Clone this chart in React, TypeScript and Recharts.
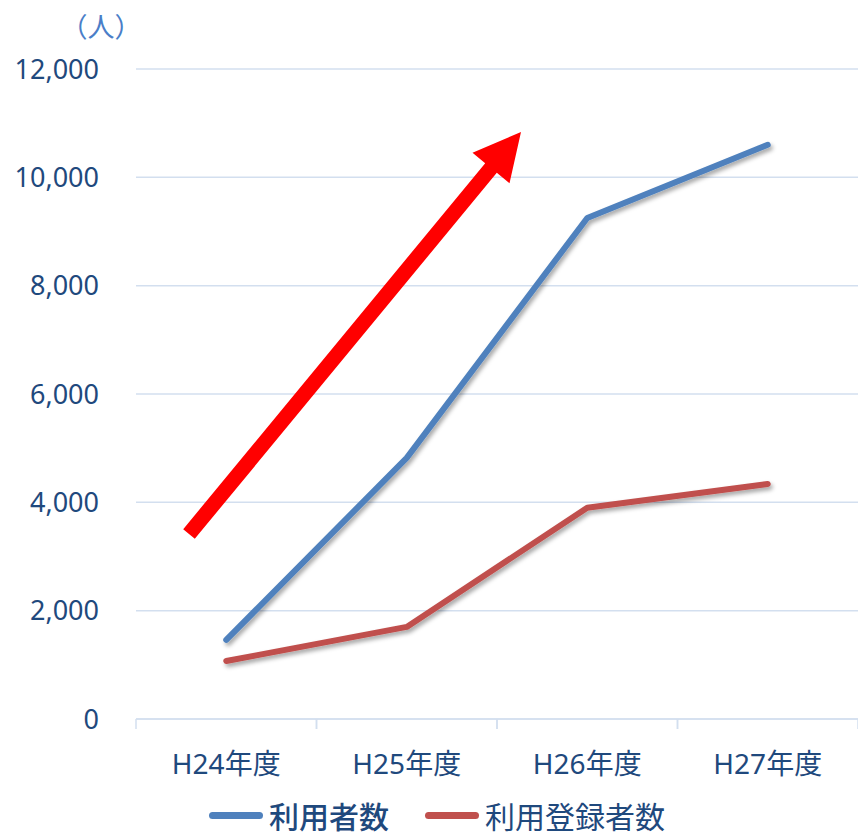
import { LineChart, Line, XAxis, YAxis, CartesianGrid, Legend } from "recharts";

const years = ["H24年度", "H25年度", "H26年度", "H27年度"];
const users = [1460, 4820, 9250, 10600];
const registered = [1070, 1700, 3900, 4340];
const yTicks = [0, 2000, 4000, 6000, 8000, 10000, 12000];

const data = years.map((year, i) => ({
  year,
  users: users[i],
  registered: registered[i],
}));

const TEXT = "#1F497D";
const GRID = "#D3DFEF";
const BLUE = "#4F81BD";
const RED = "#C0504D";
const FONT = "'Noto Sans', 'Noto Sans CJK JP', sans-serif";

const XTick = ({ x, y, payload }: any) => {
  const half = payload && payload.offset ? payload.offset : 90.25;
  return (
    <g>
      <line x1={x - half} y1={y} x2={x - half} y2={y + 10} stroke={GRID} strokeWidth={1.5} />
      <line x1={x + half} y1={y} x2={x + half} y2={y + 10} stroke={GRID} strokeWidth={1.5} />
      <text
        x={x}
        y={y + 44}
        textAnchor="middle"
        dominantBaseline="central"
        fill={TEXT}
        fontSize={28}
        fontFamily={FONT}
      >
        {payload.value}
      </text>
    </g>
  );
};

const LegendContent = () => {
  const items = [
    { label: "利用者数", color: BLUE, weight: 500 },
    { label: "利用登録者数", color: RED, weight: 400 },
  ];
  return (
    <div style={{ display: "flex", alignItems: "center", paddingLeft: 209 }}>
      {items.map((it, i) => (
        <div key={it.label} style={{ display: "flex", alignItems: "center", marginRight: i === 0 ? 36 : 0 }}>
          <span
            style={{
              display: "inline-block",
              width: 54,
              height: 7,
              borderRadius: 4,
              background: it.color,
              marginRight: 6,
            }}
          />
          <span
            style={{
              fontSize: 30,
              color: TEXT,
              fontFamily: "'Noto Sans CJK JP', sans-serif",
              fontWeight: it.weight,
              lineHeight: "30px",
            }}
          >
            {it.label}
          </span>
        </div>
      ))}
    </div>
  );
};

export default function App() {
  return (
    <div style={{ position: "absolute", left: 0, top: 0, width: 858, height: 837, background: "#fff", overflow: "hidden" }}>
      <LineChart width={858} height={837} data={data} margin={{ top: 69, right: 0, left: 0, bottom: 0 }}>
        <defs>
          <filter id="lineShadow" x="-10%" y="-10%" width="130%" height="130%">
            <feDropShadow dx="2" dy="3" stdDeviation="2" floodColor="#000" floodOpacity="0.35" />
          </filter>
        </defs>
        <CartesianGrid vertical={false} stroke={GRID} strokeWidth={1.5} />
        <XAxis
          dataKey="year"
          scale="band"
          height={118}
          tickLine={false}
          tickSize={0}
          tickMargin={0}
          axisLine={{ stroke: GRID, strokeWidth: 1.5 }}
          tick={<XTick />}
          interval={0}
        />
        <YAxis
          width={136}
          domain={[0, 12000]}
          ticks={yTicks}
          axisLine={false}
          tickLine={false}
          tickSize={0}
          tickMargin={37}
          tickFormatter={(v: number) => v.toLocaleString("en-US")}
          tick={{ fill: TEXT, fontSize: 27, fontFamily: FONT }}
        />
        <Legend
          layout="horizontal"
          verticalAlign="middle"
          align="center"
          content={<LegendContent />}
          wrapperStyle={{ top: 800, left: 0, width: 858 }}
        />
        <Line
          dataKey="users"
          name="利用者数"
          stroke={BLUE}
          strokeWidth={6}
          strokeLinecap="round"
          strokeLinejoin="round"
          dot={false}
          filter="url(#lineShadow)"
          isAnimationActive={false}
        />
        <Line
          dataKey="registered"
          name="利用登録者数"
          stroke={RED}
          strokeWidth={6}
          strokeLinecap="round"
          strokeLinejoin="round"
          dot={false}
          filter="url(#lineShadow)"
          isAnimationActive={false}
        />
      </LineChart>

      {/* unit label */}
      <div
        style={{
          position: "absolute",
          left: 101,
          top: 25,
          transform: "translate(-50%, -50%)",
          color: "#4A7EC8",
          fontSize: 27,
          fontFamily: "'Noto Sans CJK JP', sans-serif",
          whiteSpace: "nowrap",
        }}
      >
        （人）
      </div>

      {/* rising trend arrow */}
      <svg width={858} height={837} style={{ position: "absolute", left: 0, top: 0, pointerEvents: "none" }}>
        <polygon
          points="183.2,529.2 485.2,163.2 472.5,152.7 521,132 509.5,183.3 496.8,172.8 194.8,538.8"
          fill="#FF0000"
        />
      </svg>
    </div>
  );
}
